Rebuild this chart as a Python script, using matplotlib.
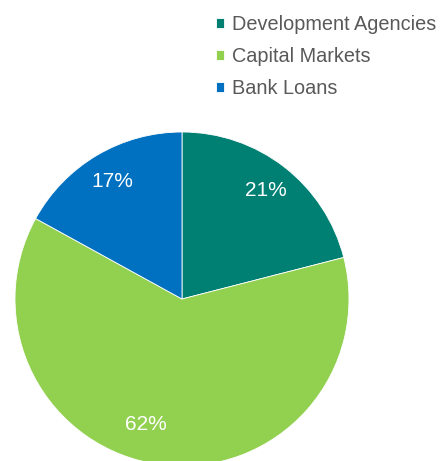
import matplotlib
matplotlib.use("Agg")
import matplotlib.pyplot as plt
import numpy as np

categories = ["Development Agencies", "Capital Markets", "Bank Loans"]
values = [21, 62, 17]
colors = ["#007F73", "#92D050", "#0070C0"]

plt.rcParams['font.family'] = ['Liberation Sans', 'DejaVu Sans']

W, H = 441, 461
fig = plt.figure(figsize=(W / 100, H / 100), dpi=100)
ax = fig.add_axes([0, 0, 1, 1])

cx, cy, r = 182, H - 299, 167
wedges, texts, autotexts = ax.pie(
    values, colors=colors, startangle=90, counterclock=False,
    center=(cx, cy), radius=r, autopct='%1.0f%%', pctdistance=0.82,
    wedgeprops=dict(edgecolor='white', linewidth=0.6),
    textprops=dict(color='white', fontsize=15),
)
# 62% label placed lower-left like the reference
ang = np.deg2rad(254)
autotexts[1].set_position((cx + 0.78 * r * np.cos(ang), cy + 0.78 * r * np.sin(ang)))

ax.set_xlim(0, W)
ax.set_ylim(0, H)
ax.set_aspect('equal')
ax.axis('off')

leg = ax.legend(wedges, categories, loc='upper left', bbox_to_anchor=(216 / W, 1 - 15 / H),
                frameon=False, fontsize=14.3, handlelength=0.4, handleheight=0.4,
                handletextpad=0.4, labelspacing=0.65, borderaxespad=0, borderpad=0)
for t in leg.get_texts():
    t.set_color('#595959')

fig.savefig("out.png", dpi=100)
